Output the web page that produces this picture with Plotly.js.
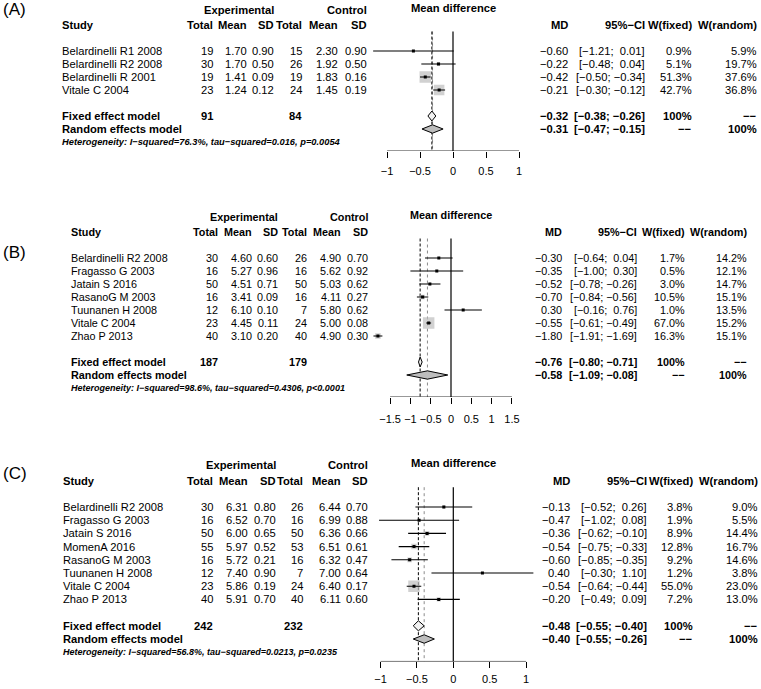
<!DOCTYPE html>
<html><head><meta charset="utf-8">
<script src="https://cdn.plot.ly/plotly-3.0.1.min.js"></script>
<style>html,body{margin:0;padding:0;background:#fff}#chart{width:761px;height:689px}</style>
</head><body><div id="chart"></div>
<script>
// ---------- Panel A data ----------
const studiesA = ["Belardinelli R1 2008","Belardinelli R2 2008","Belardinelli R 2001","Vitale C 2004"];
const nExpA = [19,30,19,23];
const meanExpA = [1.70,1.70,1.41,1.24];
const sdExpA = [0.90,0.50,0.09,0.12];
const nCtlA = [15,26,19,24];
const meanCtlA = [2.30,1.92,1.83,1.45];
const sdCtlA = [0.90,0.50,0.16,0.19];
const mdA = [-0.60,-0.22,-0.42,-0.21];
const loA = [-1.21,-0.48,-0.50,-0.30];
const hiA = [0.01,0.04,-0.34,-0.12];
const wFixA = [0.9,5.1,51.3,42.7];
const wRanA = [5.9,19.7,37.6,36.8];
const fixedA = [-0.32,-0.38,-0.26];
const randomA = [-0.31,-0.47,-0.15];
const totalsA = [91,84];
const hetA = "Heterogeneity: I\u2212squared=76.3%, tau\u2212squared=0.016, p=0.0054";
const ticksA = [-1,-0.5,0,0.5,1];

// ---------- Panel B data ----------
const studiesB = ["Belardinelli R2 2008","Fragasso G 2003","Jatain S 2016","RasanoG M 2003","Tuunanen H 2008","Vitale C 2004","Zhao P 2013"];
const nExpB = [30,16,50,16,12,23,40];
const meanExpB = [4.60,5.27,4.51,3.41,6.10,4.45,3.10];
const sdExpB = [0.60,0.96,0.71,0.09,0.10,0.11,0.20];
const nCtlB = [26,16,50,16,7,24,40];
const meanCtlB = [4.90,5.62,5.03,4.11,5.80,5.00,4.90];
const sdCtlB = [0.70,0.92,0.62,0.27,0.62,0.08,0.30];
const mdB = [-0.30,-0.35,-0.52,-0.70,0.30,-0.55,-1.80];
const loB = [-0.64,-1.00,-0.78,-0.84,-0.16,-0.61,-1.91];
const hiB = [0.04,0.30,-0.26,-0.56,0.76,-0.49,-1.69];
const wFixB = [1.7,0.5,3.0,10.5,1.0,67.0,16.3];
const wRanB = [14.2,12.1,14.7,15.1,13.5,15.2,15.1];
const fixedB = [-0.76,-0.80,-0.71];
const randomB = [-0.58,-1.09,-0.08];
const totalsB = [187,179];
const hetB = "Heterogeneity: I\u2212squared=98.6%, tau\u2212squared=0.4306, p<0.0001";
const ticksB = [-1.5,-1,-0.5,0,0.5,1,1.5];

// ---------- Panel C data ----------
const studiesC = ["Belardinelli R2 2008","Fragasso G 2003","Jatain S 2016","MomenA 2016","RasanoG M 2003","Tuunanen H 2008","Vitale C 2004","Zhao P 2013"];
const nExpC = [30,16,50,55,16,12,23,40];
const meanExpC = [6.31,6.52,6.00,5.97,5.72,7.40,5.86,5.91];
const sdExpC = [0.80,0.70,0.65,0.52,0.21,0.90,0.19,0.70];
const nCtlC = [26,16,50,53,16,7,24,40];
const meanCtlC = [6.44,6.99,6.36,6.51,6.32,7.00,6.40,6.11];
const sdCtlC = [0.70,0.88,0.66,0.61,0.47,0.64,0.17,0.60];
const mdC = [-0.13,-0.47,-0.36,-0.54,-0.60,0.40,-0.54,-0.20];
const loC = [-0.52,-1.02,-0.62,-0.75,-0.85,-0.30,-0.64,-0.49];
const hiC = [0.26,0.08,-0.10,-0.33,-0.35,1.10,-0.44,0.09];
const wFixC = [3.8,1.9,8.9,12.8,9.2,1.2,55.0,7.2];
const wRanC = [9.0,5.5,14.4,16.7,14.6,3.8,23.0,13.0];
const fixedC = [-0.48,-0.55,-0.40];
const randomC = [-0.40,-0.55,-0.26];
const totalsC = [242,232];
const hetC = "Heterogeneity: I\u2212squared=56.8%, tau\u2212squared=0.0213, p=0.0235";
const ticksC = [-1,-0.5,0,0.5,1];

const headerLabels = ["Study","Total","Mean","SD","Total","Mean","SD","MD","95%\u2212CI","W(fixed)","W(random)"];
const noWeight = "\u2212\u2212";

// ---------- drawing ----------
const W = 761, H = 689;
const FONT = "Liberation Sans, Arial, Helvetica, sans-serif";
const traces = [], annotations = [], shapes = [];
const layout = {
  width: W, height: H, margin: {l:0, r:0, t:0, b:0},
  paper_bgcolor: "#ffffff", plot_bgcolor: "rgba(0,0,0,0)",
  showlegend: false, font: {family: FONT, color: "#000"}
};

const panels = [
  {d:{studies:studiesA,nE:nExpA,mE:meanExpA,sE:sdExpA,nC:nCtlA,mC:meanCtlA,sC:sdCtlA,md:mdA,lo:loA,hi:hiA,wf:wFixA,wr:wRanA,fixed:fixedA,random:randomA,totals:totalsA,het:hetA,ticks:ticksA},
   label:"(A)", labelY:9, y0:51, h:13, fs:11.2, hs:9.3,
   cols:{study:62,nE:213,mE:247,sE:274,nC:302,mC:338,sC:367,md:568,ci:645,wf:692,wr:757},
   zero:453, ppu:66, xr:[-1.4,1.4], standoff:4},
  {d:{studies:studiesB,nE:nExpB,mE:meanExpB,sE:sdExpB,nC:nCtlB,mC:meanCtlB,sC:sdCtlB,md:mdB,lo:loB,hi:hiB,wf:wFixB,wr:wRanB,fixed:fixedB,random:randomB,totals:totalsB,het:hetB,ticks:ticksB},
   label:"(B)", labelY:253, y0:258, h:13, fs:10.8, hs:9.0,
   cols:{study:71,nE:218,mE:252,sE:278,nC:307,mC:341,sC:368,md:562,ci:637,wf:685,wr:747},
   zero:451, ppu:40.6, xr:[-2.2,2.2], standoff:6},
  {d:{studies:studiesC,nE:nExpC,mE:meanExpC,sE:sdExpC,nC:nCtlC,mC:meanCtlC,sC:sdCtlC,md:mdC,lo:loC,hi:hiC,wf:wFixC,wr:wRanC,fixed:fixedC,random:randomC,totals:totalsC,het:hetC,ticks:ticksC},
   label:"(C)", labelY:473, y0:507, h:13.2, fs:11.2, hs:9.0,
   cols:{study:63,nE:213,mE:248,sE:276,nC:303,mC:341,sC:368,md:570,ci:647,wf:693,wr:758},
   zero:453.3, ppu:72.8, xr:[-1.3,1.3], standoff:1}
];

function f2(v){ return (v < 0 ? "\u2212" : "") + Math.abs(v).toFixed(2); }
function ciTxt(lo, hi){
  const pad = s => (s < 0 ? "" : "\u00a0");
  return "[" + pad(lo) + f2(lo) + ";\u00a0" + pad(hi) + f2(hi) + "]";
}
function txt(text, px, yval, yref, anchor, size){
  annotations.push({xref:"paper", yref:yref, x:px/W, y:yval, text:text,
    xanchor:anchor, yanchor:"middle", showarrow:false, borderpad:0, borderwidth:0,
    font:{family:FONT, size:size, color:"#000"}});
}

panels.forEach((p, idx) => {
  const sfx = idx === 0 ? "" : String(idx + 1);
  const xa = "x" + sfx, ya = "y" + sfx;
  const d = p.d, c = p.cols;
  const n = d.studies.length;
  const rows = d.studies.map((_, i) => i);
  const rFix = n + 1, rRan = n + 2, rHet = n + 3, rAx = n + 3.7, rTop = -3.6;
  const px = r => p.y0 + r * p.h;

  layout["xaxis" + sfx] = {
    domain: [(p.zero + p.xr[0]*p.ppu)/W, (p.zero + p.xr[1]*p.ppu)/W],
    range: p.xr, anchor: ya, showgrid:false, zeroline:false, showline:false,
    ticks:"outside", ticklen:6, tickwidth:1, tickcolor:"#000",
    tickvals: d.ticks, tickfont:{family:FONT, size:11, color:"#000"},
    ticklabelstandoff: p.standoff, fixedrange:true
  };
  layout["yaxis" + sfx] = {
    domain: [1 - px(rAx)/H, 1 - px(rTop)/H],
    range: [rAx, rTop], anchor: xa, visible:false, fixedrange:true
  };

  // axis line between extreme ticks
  shapes.push({type:"line", xref:xa, yref:ya, x0:d.ticks[0], x1:d.ticks[d.ticks.length-1], y0:rAx, y1:rAx, line:{color:"#000", width:1}});
  // reference lines
  shapes.push({type:"line", layer:"below", xref:xa, yref:ya, x0:0, x1:0, y0:-1.5, y1:rAx, line:{color:"#000", width:1.2}});
  shapes.push({type:"line", layer:"below", xref:xa, yref:ya, x0:d.random[0], x1:d.random[0], y0:-1.5, y1:rAx, line:{color:"#8c8c8c", width:1, dash:"dot"}});
  shapes.push({type:"line", layer:"below", xref:xa, yref:ya, x0:d.fixed[0], x1:d.fixed[0], y0:-1.5, y1:rAx, line:{color:"#000", width:1, dash:"3px,2px"}});

  // weight squares
  const wmax = Math.max(...d.wf);
  traces.push({type:"scatter", mode:"markers", xaxis:xa, yaxis:ya, x:d.md, y:rows,
    marker:{symbol:"square", color:"#bdbdbd", size:d.wf.map(w => 11.5*Math.sqrt(w/wmax)), line:{width:0}},
    hoverinfo:"skip"});
  // CI lines + point estimates
  traces.push({type:"scatter", mode:"markers", xaxis:xa, yaxis:ya, x:d.md, y:rows,
    marker:{symbol:"square", color:"#000", size:3},
    error_x:{type:"data", symmetric:false, array:d.hi.map((h,i)=>h-d.md[i]), arrayminus:d.md.map((m,i)=>m-d.lo[i]), width:0, thickness:1.1, color:"#000"},
    hoverinfo:"skip"});
  // diamonds
  const dia = (s, r, fill, hh) => traces.push({type:"scatter", mode:"lines", xaxis:xa, yaxis:ya,
    x:[s[1], s[0], s[2], s[0], s[1]], y:[r, r-hh, r, r+hh, r], fill:"toself", fillcolor:fill,
    line:{color:"#000", width:1}, hoverinfo:"skip"});
  dia(d.fixed, rFix, "#f2f2f2", 0.38);
  dia(d.random, rRan, "#bdbdbd", 0.32);

  // ---- text ----
  const y = ya;
  txt(p.label, 3, 1 - p.labelY/H, "paper", "left", 17);
  txt("<b>Experimental</b>", c.sE, -3.15, y, "right", p.fs);
  txt("<b>Control</b>", c.sC, -3.15, y, "right", p.fs);
  txt("<b>Mean difference</b>", p.zero, -3.3, y, "center", p.fs);
  const hx = [c.study,c.nE,c.mE,c.sE,c.nC,c.mC,c.sC,c.md,c.ci,c.wf,c.wr];
  headerLabels.forEach((h, i) => txt("<b>" + h + "</b>", hx[i], -2, y, i === 0 ? "left" : "right", p.fs));
  rows.forEach(i => {
    txt(d.studies[i], c.study, i, y, "left", p.fs);
    txt(String(d.nE[i]), c.nE, i, y, "right", p.fs);
    txt(d.mE[i].toFixed(2), c.mE, i, y, "right", p.fs);
    txt(d.sE[i].toFixed(2), c.sE, i, y, "right", p.fs);
    txt(String(d.nC[i]), c.nC, i, y, "right", p.fs);
    txt(d.mC[i].toFixed(2), c.mC, i, y, "right", p.fs);
    txt(d.sC[i].toFixed(2), c.sC, i, y, "right", p.fs);
    txt(f2(d.md[i]), c.md, i, y, "right", p.fs);
    txt(ciTxt(d.lo[i], d.hi[i]), c.ci, i, y, "right", p.fs);
    txt(d.wf[i].toFixed(1) + "%", c.wf, i, y, "right", p.fs);
    txt(d.wr[i].toFixed(1) + "%", c.wr, i, y, "right", p.fs);
  });
  txt("<b>Fixed effect model</b>", c.study, rFix, y, "left", p.fs);
  txt("<b>" + d.totals[0] + "</b>", c.nE, rFix, y, "right", p.fs);
  txt("<b>" + d.totals[1] + "</b>", c.nC, rFix, y, "right", p.fs);
  txt("<b>" + f2(d.fixed[0]) + "</b>", c.md, rFix, y, "right", p.fs);
  txt("<b>" + ciTxt(d.fixed[1], d.fixed[2]) + "</b>", c.ci, rFix, y, "right", p.fs);
  txt("<b>100%</b>", c.wf, rFix, y, "right", p.fs);
  txt("<b>" + noWeight + "</b>", c.wr, rFix, y, "right", p.fs);
  txt("<b>Random effects model</b>", c.study, rRan, y, "left", p.fs);
  txt("<b>" + f2(d.random[0]) + "</b>", c.md, rRan, y, "right", p.fs);
  txt("<b>" + ciTxt(d.random[1], d.random[2]) + "</b>", c.ci, rRan, y, "right", p.fs);
  txt("<b>" + noWeight + "</b>", c.wf, rRan, y, "right", p.fs);
  txt("<b>100%</b>", c.wr, rRan, y, "right", p.fs);
  txt("<b><i>" + d.het + "</i></b>", c.study, rHet, y, "left", p.hs);
});

layout.annotations = annotations;
layout.shapes = shapes;
Plotly.newPlot("chart", traces, layout, {displayModeBar:false, staticPlot:true});
</script>
</body></html>
